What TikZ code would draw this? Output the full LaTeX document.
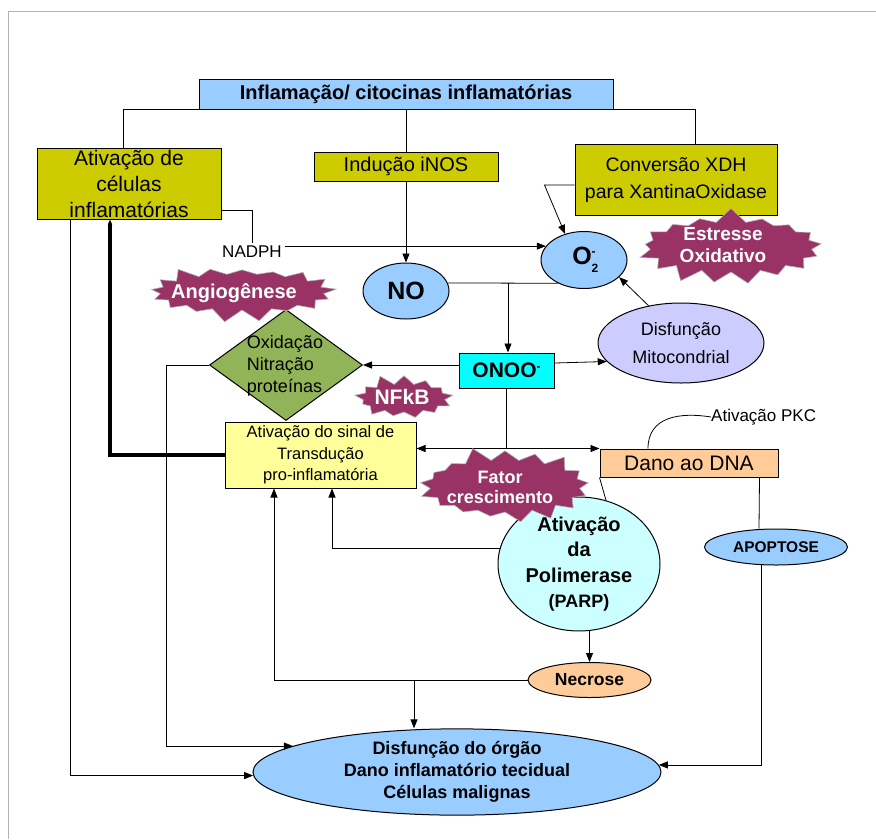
\documentclass[tikz,border=0pt]{standalone}
\usepackage{fontspec}
\setmainfont{Liberation Sans}
\usetikzlibrary{shapes.geometric,shapes.symbols,arrows.meta}
\definecolor{skyb}{HTML}{99CCFF}
\definecolor{olive}{HTML}{CCCC00}
\definecolor{aqua}{HTML}{00FFFF}
\definecolor{lav}{HTML}{CCCCFF}
\definecolor{dgreen}{HTML}{92B458}
\definecolor{lyellow}{HTML}{FFFF99}
\definecolor{peach}{HTML}{FFCC99}
\definecolor{lcyan}{HTML}{CCFFFF}
\definecolor{plum}{HTML}{993366}
\newcommand{\fsz}[2]{\fontsize{#1}{#2}\selectfont}
\begin{document}
\begin{tikzpicture}[x=1pt,y=-1pt,
  box/.style={draw, line width=1pt, inner sep=0pt, align=center},
  ell/.style={draw, ellipse, line width=1pt, inner sep=0pt, align=center},
  conn/.style={line width=0.8pt},
  arr/.style={conn, -{Triangle[length=9pt,width=7pt]}},
  burst/.style={starburst, fill=plum, draw=gray!60, line width=0.6pt, starburst points=17, starburst point height=15pt, inner sep=0pt},
  bursttext/.style={text=white, align=center, inner sep=0pt}]
\useasboundingbox (0,0) rectangle (876,839);
\draw[gray!60, line width=0.8pt] (876,11) -- (8,11) -- (8,839);

% nodes
\node[box, fill=skyb, minimum width=414pt, minimum height=30pt, font=\fsz{20}{24}\bfseries] (title) at (406,94) {Inflamação/ citocinas inflamatórias};
\node[box, fill=olive, minimum width=184pt, minimum height=71pt, font=\fsz{21}{26}] (act) at (129,183.5) {Ativação de\\células\\inflamatórias};
\node[box, fill=olive, minimum width=184pt, minimum height=29pt, font=\fsz{20}{24}] (inos) at (406,166.5) {Indução iNOS};
\node[box, fill=olive, minimum width=202pt, minimum height=71pt, font=\fsz{19.5}{27}] (xdh) at (676,180) {Conversão XDH\\para XantinaOxidase};
\node[inner sep=3pt, font=\fsz{17}{20}] (nadph) at (252,252) {NADPH};
\node[ell, fill=skyb, minimum width=86pt, minimum height=56pt, font=\fsz{25}{28}\bfseries] (no) at (406,291) {NO};
\node[ell, fill=skyb, minimum width=86pt, minimum height=57pt, font=\fsz{25}{28}\bfseries] (o2) at (584,260) {O\rlap{\raisebox{-8pt}{\fsz{12}{12}2}}\raisebox{9pt}{\fsz{12}{12}-}};
\node[box, fill=aqua, minimum width=95pt, minimum height=35pt, font=\fsz{21}{24}\bfseries] (onoo) at (506.5,370.5) {ONOO\raisebox{7pt}{\fsz{12}{12}-}};
\node[ell, fill=lav, minimum width=166pt, minimum height=80pt, font=\fsz{18}{28}] (mito) at (681,343) {Disfunção\\Mitocondrial};
\node[diamond, draw, line width=1pt, fill=dgreen, inner sep=0pt, minimum width=153pt, minimum height=111pt] (dia) at (286,365) {};
\node[align=left, inner sep=0pt, font=\fsz{18}{22}] (diat) at (285,366) {Oxidação\\Nitração\\proteínas};
\node[box, fill=lyellow, minimum width=191pt, minimum height=66pt, font=\fsz{16.5}{21.5}] (sinal) at (320.5,455) {Ativação do sinal de\\Transdução\\pro-inflamatória};
\node[box, fill=peach, minimum width=178pt, minimum height=28pt, font=\fsz{21}{24}] (dano) at (689,463) {Dano ao DNA};
\node[anchor=west, inner sep=0pt, font=\fsz{17}{20}] (pkc) at (711,417) {Ativação PKC};
\node[ell, fill=skyb, minimum width=143pt, minimum height=36pt, font=\fsz{15.5}{18}\bfseries] (apop) at (776,547) {APOPTOSE};
\node[ell, fill=lcyan, minimum width=162pt, minimum height=106pt, font=\fsz{20}{25.5}\bfseries] (parp) at (579,564) {Ativação\\da\\Polimerase\\\fsz{18}{23}\bfseries(PARP)};
\node[ell, fill=peach, minimum width=123pt, minimum height=35pt, font=\fsz{17.5}{20}\bfseries] (necr) at (589.5,680) {Necrose};
\node[ell, fill=skyb, minimum width=408pt, minimum height=81pt, font=\fsz{18}{22}\bfseries] (big) at (457,772) {Disfunção do órgão\\Dano inflamatório tecidual\\Células malignas};

% connectors
\draw[conn] ([xshift=-6pt]act.north) |- (title.south);
\draw[conn] (title.south) -| ([xshift=19pt]xdh.north);
\draw[conn] (title.south) -- (inos.north);
\draw[conn] ([yshift=-26.5pt]act.east) -| (nadph.north);
\draw[arr] (nadph.east |- o2.160) -- (o2.160);
\draw[arr] (inos.south) -- (no.north);
\draw[arr] ([yshift=-5pt]xdh.west) -- ++(-30,0) -- (o2.126);
\draw[conn] (no.11) -- (o2.222);
\coordinate (j1) at (508,283);
\draw[arr] (j1) -- (j1 |- onoo.north);
\draw[arr] (onoo.west |- dia.east) -- (dia.east);
\draw[arr] ([yshift=7.5pt]onoo.east) -- (mito.194);
\draw[arr] (mito.131.8) -- (o2.334);
\draw[conn] (onoo.south) -- (onoo.south |- dano.north west);
\draw[conn, {Triangle[length=9pt,width=7pt]}-{Triangle[length=9pt,width=7pt]}] (sinal.east |- dano.north west) -- (dano.north west);
\draw[conn] ([xshift=-41pt]dano.north) .. controls ([xshift=-41pt,yshift=32pt]dano.north) and (680,412) .. (pkc.west);
\draw[conn] (dano.south west) -- (parp.67.7);
\draw[conn] ([xshift=-19pt]dano.south east) -- ([xshift=-17pt]apop.north);
\draw[arr] (apop.231.6) |- (big.2);
\draw[arr] (parp.169.8) -| ([xshift=11.5pt]sinal.south);
\draw[arr] (necr.west) -| ([xshift=-46.5pt]sinal.south);
\coordinate (j2) at (414,680);
\draw[arr] (j2) -- (j2 |- big.north);
\draw[arr] (parp.south -| necr.north) -- (necr.north);
\coordinate (c1) at (166,365);
\draw[conn] (dia.west) -- (c1);
\draw[arr] (c1) |- (big.171.7);
\draw[arr] ([xshift=-59pt]act.south) |- (big.181.4);
\draw[line width=4pt, -{Triangle[length=5pt,width=4pt]}] (sinal.west) -| ([xshift=-19pt]act.south);

% starbursts
\node[burst, minimum width=190pt, minimum height=62pt, random starburst=3, starburst point height=13pt] (angb) at (242,292) {};
\node[bursttext, font=\fsz{20}{22}\bfseries] (angt) at (234,293) {Angiogênese};
\node[burst, minimum width=192pt, minimum height=80pt, random starburst=7] (estb) at (731,247) {};
\node[bursttext, font=\fsz{19}{22}\bfseries] (estt) at (723,245) {Estresse\\Oxidativo};
\node[burst, minimum width=104pt, minimum height=50pt, random starburst=11, starburst points=13, starburst point height=11pt] (nfb) at (404,398) {};
\node[bursttext, font=\fsz{21}{24}\bfseries] (nft) at (402,397) {NFkB};
\node[burst, minimum width=180pt, minimum height=82pt, random starburst=5] (fatb) at (505,486) {};
\node[bursttext, font=\fsz{18}{20}\bfseries] (fatt) at (500,487) {Fator\\crescimento};
\end{tikzpicture}
\end{document}
